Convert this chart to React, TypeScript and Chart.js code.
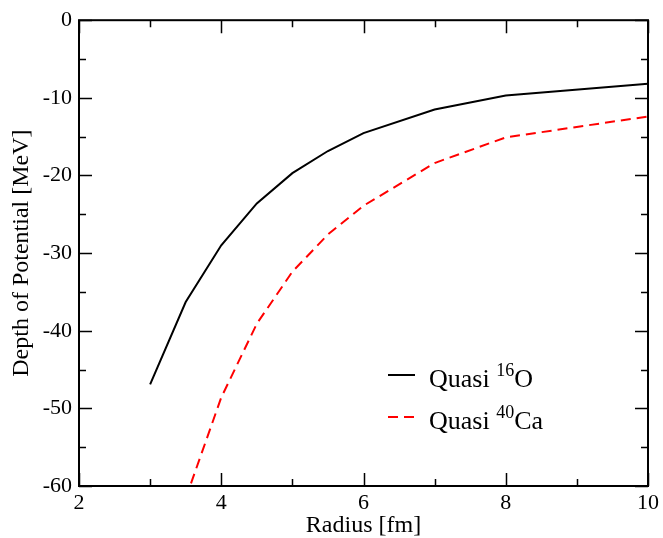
import React, { useEffect, useRef } from "react";
import { Chart, registerables } from "chart.js";

Chart.register(...registerables);

const radiusO = [3, 3.5, 4, 4.5, 5, 5.5, 6, 7, 8, 10];
const depthO = [-46.9, -36.3, -29.0, -23.6, -19.7, -16.85, -14.55, -11.5, -9.7, -8.2];
const radiusCa = [3.5, 4, 4.5, 5, 5.5, 6, 7, 8, 10];
const depthCa = [-61.6, -48.6, -39.1, -32.4, -27.6, -23.9, -18.4, -15.1, -12.4];
const legendNames = [
  { pre: "Quasi ", sup: "16", post: "O" },
  { pre: "Quasi ", sup: "40", post: "Ca" },
];
const xTitle = "Radius [fm]";
const yTitle = "Depth of Potential [MeV]";

const FONT = "Liberation Serif";

const framePlugin = {
  id: "frame",
  afterDraw(chart: any) {
    const ctx = chart.ctx;
    const { left, right, top, bottom } = chart.chartArea;
    const xs = chart.scales.x;
    const ys = chart.scales.y;
    ctx.save();
    ctx.strokeStyle = "#000";
    ctx.lineWidth = 2;
    ctx.strokeRect(left, top, right - left, bottom - top);
    ctx.lineWidth = 1.5;
    ctx.beginPath();
    for (let v = 2; v <= 10.001; v += 1) {
      const p = Math.round(xs.getPixelForValue(v)) + 0.5;
      const len = Math.abs(v % 2) < 1e-6 ? 13 : 7;
      ctx.moveTo(p, bottom);
      ctx.lineTo(p, bottom - len);
      ctx.moveTo(p, top);
      ctx.lineTo(p, top + len);
    }
    for (let v = -60; v <= 0.001; v += 5) {
      const p = Math.round(ys.getPixelForValue(v)) + 0.5;
      const len = Math.abs(v % 10) < 1e-6 ? 13 : 7;
      ctx.moveTo(left, p);
      ctx.lineTo(left + len, p);
      ctx.moveTo(right, p);
      ctx.lineTo(right - len, p);
    }
    ctx.stroke();

    // legend
    const items = [
      { color: "#000", dash: [] as number[], y: 375 },
      { color: "#ff0000", dash: [10, 6], y: 417 },
    ];
    items.forEach((it, i) => {
      ctx.beginPath();
      ctx.setLineDash(it.dash);
      ctx.strokeStyle = it.color;
      ctx.lineWidth = 2;
      ctx.moveTo(388, it.y);
      ctx.lineTo(415, it.y);
      ctx.stroke();
      ctx.setLineDash([]);
      const n = legendNames[i];
      const base = it.y + 11.5;
      let x = 429;
      ctx.fillStyle = "#000";
      ctx.textBaseline = "alphabetic";
      ctx.textAlign = "left";
      ctx.font = `26px "${FONT}"`;
      ctx.fillText(n.pre, x, base);
      x += ctx.measureText(n.pre).width;
      ctx.font = `18px "${FONT}"`;
      ctx.fillText(n.sup, x, base - 11);
      x += ctx.measureText(n.sup).width;
      ctx.font = `26px "${FONT}"`;
      ctx.fillText(n.post, x, base);
    });
    ctx.restore();
  },
};

export default function App() {
  const ref = useRef<HTMLCanvasElement>(null);
  useEffect(() => {
    const chart = new Chart(ref.current!, {
      type: "line",
      data: {
        datasets: [
          {
            label: "O",
            data: radiusO.map((x, i) => ({ x, y: depthO[i] })),
            borderColor: "#000",
            borderWidth: 2,
            pointRadius: 0,
            tension: 0,
          },
          {
            label: "Ca",
            data: radiusCa.map((x, i) => ({ x, y: depthCa[i] })),
            borderColor: "#ff0000",
            borderWidth: 2,
            borderDash: [10, 6],
            pointRadius: 0,
            tension: 0,
          },
        ],
      },
      options: {
        animation: false,
        responsive: false,
        maintainAspectRatio: false,
        layout: { padding: { top: 16, right: 14, left: 0, bottom: 0 } },
        plugins: { legend: { display: false }, tooltip: { enabled: false } },
        scales: {
          x: {
            type: "linear",
            min: 2,
            max: 10,
            ticks: { stepSize: 2, color: "#000", font: { family: FONT, size: 22 }, padding: 4 },
            grid: { display: false, drawTicks: false },
            border: { display: false },
            title: { display: true, text: xTitle, color: "#000", font: { family: FONT, size: 24 }, padding: { top: 0, bottom: -2 } },
            afterFit: (s: any) => { s.height = 52; },
          },
          y: {
            type: "linear",
            min: -60,
            max: 0,
            ticks: { stepSize: 10, color: "#000", font: { family: FONT, size: 22 }, padding: 7 },
            grid: { display: false, drawTicks: false },
            border: { display: false },
            title: { display: true, text: yTitle, color: "#000", font: { family: FONT, size: 24 }, padding: { top: 7, bottom: 0 } },
            afterFit: (s: any) => { s.width = 79; },
          },
        },
      },
      plugins: [framePlugin],
    });
    return () => chart.destroy();
  }, []);
  return (
    <div style={{ position: "fixed", left: 0, top: 0, width: 663, height: 538, background: "#fff" }}>
      <canvas ref={ref} width={663} height={538} />
    </div>
  );
}
